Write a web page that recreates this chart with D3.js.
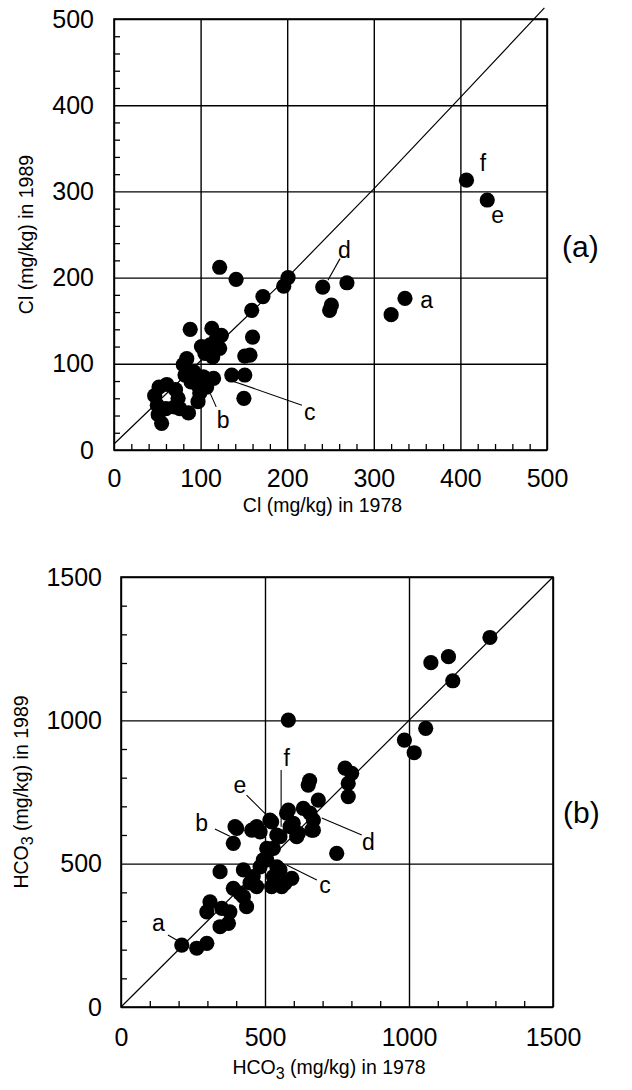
<!DOCTYPE html>
<html><head><meta charset="utf-8">
<script src="https://cdn.jsdelivr.net/npm/d3@7"></script>
<style>body{margin:0;background:#fff}svg{display:block}text{font-family:"Liberation Sans",Arial,sans-serif;fill:#000}</style>
</head><body><svg id="c" width="632" height="1090"></svg>
<script>
// ---- Panel (a): Cl ----
const clTicks = [0, 100, 200, 300, 400, 500];
const clMinor = d3.range(20, 500, 20).filter(v => v % 100 !== 0);
const clDiagonal = [[0, 7], [200, 200], [300, 303], [400, 409], [497, 513]];
const clPoints = [
  [122,212],[141,198],[201,200],[196,190],[172,178],[159,162],
  [241,189],[269,194],[251,168],[249,162],[336,176],[320,157],
  [407,313],[431,290],
  [88,140],[113,141],[124,133],[160,131],[157,110],[151,109],
  [136,87],[151,87],[150,60],
  [101,120],[111,122],[122,118],[118,128],[114,108],[105,112],[84,106],[80,99],[92,91],[103,85],[115,83],[97,75],[107,73],[99,66],[97,56],[89,79],[82,87],
  [61,76],[71,70],[74,60],[70,50],[60,48],[50,52],[47,63],[52,73],
  [51,41],[55,31],[86,43],[76,48]
];
const clLabels = [
  {t:"a", x:361, y:174}, {t:"b", x:126, y:35}, {t:"c", x:226, y:44},
  {t:"d", x:266, y:232}, {t:"e", x:443, y:273}, {t:"f", x:426, y:333}
];
const clLeaders = [
  [[111,66],[118,50]],
  [[134,81],[217,52]],
  [[261,222],[247,197]]
];

// ---- Panel (b): HCO3 ----
const hcoTicks = [0, 500, 1000, 1500];
const hcoMinor = d3.range(100, 1500, 100).filter(v => v % 500 !== 0);
const hcoDiagonal = [[0, 0], [1500, 1500]];
const hcoPoints = [
  [1281,1289],[1137,1222],[1076,1201],[1152,1138],[1058,972],[984,931],[1018,887],
  [778,833],[801,815],[789,780],[789,734],[650,774],[655,790],[685,722],[656,676],[668,617],[749,536],[581,1001],
  [211,216],[263,205],[298,222],[309,367],[298,332],[350,344],[344,280],[373,292],[378,332],
  [344,472],[390,414],[425,385],[436,350],[425,478],[459,455],[471,420],[506,513],[529,455],
  [523,420],[552,478],[569,431],[593,449],[402,623],[390,571],[454,617],[483,611],[523,646],
  [529,553],[552,594],[581,687],[598,641],[610,594],[633,693],[662,617],[483,489],[448,433],
  [413,397],[494,513],[541,489],[558,420],[506,553],[541,600],[517,652],[396,629],[471,629],
  [575,676],[587,629],[616,606],[668,652]
];
const hcoLabels = [
  {t:"a", x:130, y:292}, {t:"b", x:280, y:641}, {t:"c", x:708, y:426},
  {t:"d", x:859, y:577}, {t:"e", x:413, y:774}, {t:"f", x:575, y:868}
];
const hcoLeaders = [
  [[163,251],[205,227]],
  [[326,621],[378,596]],
  [[436,739],[511,664]],
  [[556,827],[556,629]],
  [[680,443],[575,495]],
  [[836,600],[697,659]]
];

const svg = d3.select("#c");
svg.append("rect").attr("width",632).attr("height",1090).attr("fill","#fff");

function panel(cfg) {
  const x = d3.scaleLinear().domain(cfg.domain).range([cfg.left, cfg.right]);
  const y = d3.scaleLinear().domain(cfg.domain).range([cfg.bottom, cfg.top]);
  const g = svg.append("g");
  const H = cfg.bottom - cfg.top, W = cfg.right - cfg.left;

  const xa = g.append("g").attr("transform",`translate(0,${cfg.bottom})`)
    .call(d3.axisBottom(x).tickValues(cfg.ticks).tickSize(-H).tickPadding(cfg.xPad).tickFormat(d3.format("d")));
  const ya = g.append("g").attr("transform",`translate(${cfg.left},0)`)
    .call(d3.axisLeft(y).tickValues(cfg.ticks).tickSize(-W).tickPadding(cfg.yPad).tickFormat(d3.format("d")));
  [xa, ya].forEach(a => {
    a.select(".domain").remove();
    a.selectAll("line").attr("stroke","#000").attr("stroke-width",1.4);
    a.selectAll("text").attr("font-size",25).attr("font-family","Liberation Sans, Arial, sans-serif").attr("fill","#000");
  });
  const xm = g.append("g").attr("transform",`translate(0,${cfg.bottom})`)
    .call(d3.axisBottom(x).tickValues(cfg.minor).tickSize(-6).tickFormat(""));
  const ym = g.append("g").attr("transform",`translate(${cfg.left},0)`)
    .call(d3.axisLeft(y).tickValues(cfg.minor).tickSize(-6).tickFormat(""));
  [xm, ym].forEach(a => {
    a.select(".domain").remove();
    a.selectAll("line").attr("stroke","#000").attr("stroke-width",1.3);
  });
  g.append("rect").attr("x",cfg.left).attr("y",cfg.top).attr("width",W).attr("height",H)
    .attr("fill","none").attr("stroke","#000").attr("stroke-width",1.6);
  g.append("path").datum(cfg.diag)
    .attr("d", d3.line().x(d=>x(d[0])).y(d=>y(d[1])))
    .attr("fill","none").attr("stroke","#000").attr("stroke-width",1.2);
  g.selectAll(".ld").data(cfg.leaders).enter().append("line")
    .attr("x1",d=>x(d[0][0])).attr("y1",d=>y(d[0][1]))
    .attr("x2",d=>x(d[1][0])).attr("y2",d=>y(d[1][1]))
    .attr("stroke","#000").attr("stroke-width",1.1);
  g.selectAll(".pt").data(cfg.points).enter().append("circle")
    .attr("cx",d=>x(d[0])).attr("cy",d=>y(d[1])).attr("r",7.6).attr("fill","#000");
  g.selectAll(".lb").data(cfg.labels).enter().append("text")
    .attr("x",d=>x(d.x)).attr("y",d=>y(d.y)).attr("dy","0.35em")
    .attr("text-anchor","middle").attr("font-size",23).text(d=>d.t);
  g.append("text").attr("x",cfg.tagX).attr("y",cfg.tagY).attr("dy","0.35em")
    .attr("font-size",30).text(cfg.tag);
  const xt = g.append("text").attr("x",(cfg.left+cfg.right)/2 - 8).attr("y",cfg.xTitleY)
    .attr("text-anchor","middle").attr("font-size",19.5);
  cfg.title(xt, "1978");
  const yt = g.append("text").attr("transform",`translate(${cfg.yTitleX},${(cfg.top+cfg.bottom)/2}) rotate(-90)`)
    .attr("text-anchor","middle").attr("font-size",19.5);
  cfg.title(yt, "1989");
}

panel({
  domain:[0,500], left:114, right:547, top:19, bottom:450,
  ticks:clTicks, minor:clMinor, diag:clDiagonal, points:clPoints,
  labels:clLabels, leaders:clLeaders, xPad:19, yPad:20,
  tag:"(a)", tagX:562, tagY:246, xTitleY:512, yTitleX:33,
  title:(t,yr)=>{ t.text(`Cl (mg/kg) in ${yr}`); }
});
panel({
  domain:[0,1500], left:121, right:553, top:577, bottom:1007,
  ticks:hcoTicks, minor:hcoMinor, diag:hcoDiagonal, points:hcoPoints,
  labels:hcoLabels, leaders:hcoLeaders, xPad:21, yPad:19,
  tag:"(b)", tagX:563, tagY:812, xTitleY:1074, yTitleX:28,
  title:(t,yr)=>{
    t.append("tspan").text("HCO");
    t.append("tspan").attr("dy",5).attr("font-size",16).text("3");
    t.append("tspan").attr("dy",-5).text(` (mg/kg) in ${yr}`);
  }
});
</script></body></html>
